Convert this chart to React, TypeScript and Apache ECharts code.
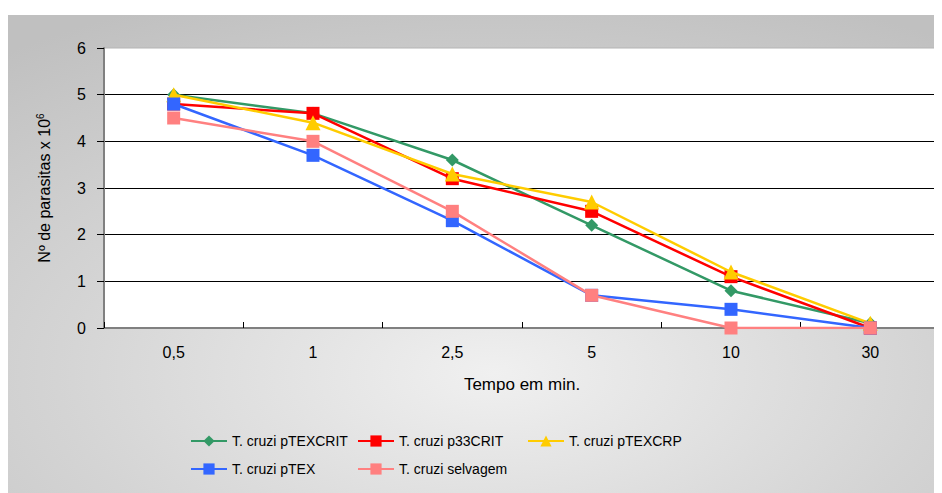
import React, { useEffect, useRef } from "react";
import * as echarts from "echarts";

const categories = ["0,5", "1", "2,5", "5", "10", "30"];
const seriesNames = [
  "T. cruzi pTEXCRIT",
  "T. cruzi p33CRIT",
  "T. cruzi pTEXCRP",
  "T. cruzi pTEX",
  "T. cruzi selvagem",
];
const pTEXCRIT = [5.0, 4.6, 3.6, 2.2, 0.8, 0.1];
const p33CRIT = [4.8, 4.6, 3.2, 2.5, 1.1, 0.0];
const pTEXCRP = [5.0, 4.4, 3.3, 2.7, 1.2, 0.1];
const pTEX = [4.8, 3.7, 2.3, 0.7, 0.4, 0.0];
const selvagem = [4.5, 4.0, 2.5, 0.7, 0.0, 0.0];
const yTicks = [0, 1, 2, 3, 4, 5, 6];

const colors = ["#339966", "#FF0000", "#FFCC00", "#3366FF", "#FF8080"];
const symbols = ["diamond", "rect", "triangle", "rect", "rect"];
const symbolSizes = [13, 13, 15, 13, 13];
const values = [pTEXCRIT, p33CRIT, pTEXCRP, pTEX, selvagem];
const legendPos = [
  { left: 182, top: 426 },
  { left: 349, top: 426 },
  { left: 519, top: 426 },
  { left: 182, top: 454 },
  { left: 349, top: 454 },
];

const FONT = "Liberation Sans, Arial, sans-serif";

export default function App() {
  const ref = useRef<HTMLDivElement>(null);
  useEffect(() => {
    if (!ref.current) return;
    const chart = echarts.init(ref.current, null, { renderer: "svg" });
    chart.setOption({
      animation: false,
      textStyle: { fontFamily: FONT },
      graphic: [
        {
          type: "rect",
          z: -10,
          silent: true,
          shape: { x: 0, y: 7, width: 934, height: 478 },
          style: {
            fill: {
              type: "radial",
              x: 0.52,
              y: 0.75,
              r: 0.85,
              colorStops: [
                { offset: 0, color: "#f0f0f0" },
                { offset: 0.55, color: "#d4d4d4" },
                { offset: 1, color: "#c0c0c0" },
              ],
            },
          },
        },
      ],
      grid: {
        left: 96,
        right: 2,
        top: 40,
        bottom: 165,
        show: true,
        backgroundColor: "#ffffff",
        borderColor: "#b4b4b4",
        borderWidth: 1,
      },
      legend: seriesNames.map((n, i) => ({
        data: [n],
        left: legendPos[i].left,
        top: legendPos[i].top,
        itemWidth: 36,
        itemHeight: 14,
        padding: 0,
        textStyle: { fontSize: 14, color: "#000", fontFamily: FONT },
      })),
      xAxis: {
        type: "category",
        data: categories,
        boundaryGap: true,
        axisLine: { lineStyle: { color: "#808080", width: 2 } },
        axisTick: { show: true, inside: true, length: 6, lineStyle: { color: "#000" } },
        axisLabel: { color: "#000", fontSize: 16, margin: 16, fontFamily: FONT },
        name: "Tempo em min.",
        nameLocation: "middle",
        nameGap: 48,
        nameTextStyle: { color: "#000", fontSize: 17, fontFamily: FONT },
        splitLine: { show: false },
      },
      yAxis: {
        type: "value",
        min: yTicks[0],
        max: yTicks[yTicks.length - 1],
        interval: 1,
        axisLine: { show: true, lineStyle: { color: "#808080", width: 2 } },
        axisTick: { show: true, length: 7, lineStyle: { color: "#000" } },
        axisLabel: { color: "#000", fontSize: 16, margin: 18, fontFamily: FONT },
        splitLine: { show: true, showMaxLine: false, lineStyle: { color: "#000", width: 1 } },
        name: "Nº de parasitas x 10{sup|6}",
        nameLocation: "middle",
        nameGap: 50,
        nameRotate: 90,
        nameTextStyle: {
          color: "#000",
          fontSize: 16,
          fontFamily: FONT,
          rich: {
            sup: { fontSize: 10, verticalAlign: "top", padding: [0, 0, 9, 0], color: "#000", fontFamily: FONT },
          },
        },
      },
      series: seriesNames.map((n, i) => ({
        name: n,
        type: "line",
        data: values[i],
        symbol: symbols[i],
        symbolSize: symbolSizes[i],
        showAllSymbol: true,
        color: colors[i],
        lineStyle: { color: colors[i], width: 2.5 },
        itemStyle: { color: colors[i] },
        z: 2 + i,
      })),
    });
    return () => chart.dispose();
  }, []);
  return <div ref={ref} style={{ width: 934, height: 485 }} />;
}
